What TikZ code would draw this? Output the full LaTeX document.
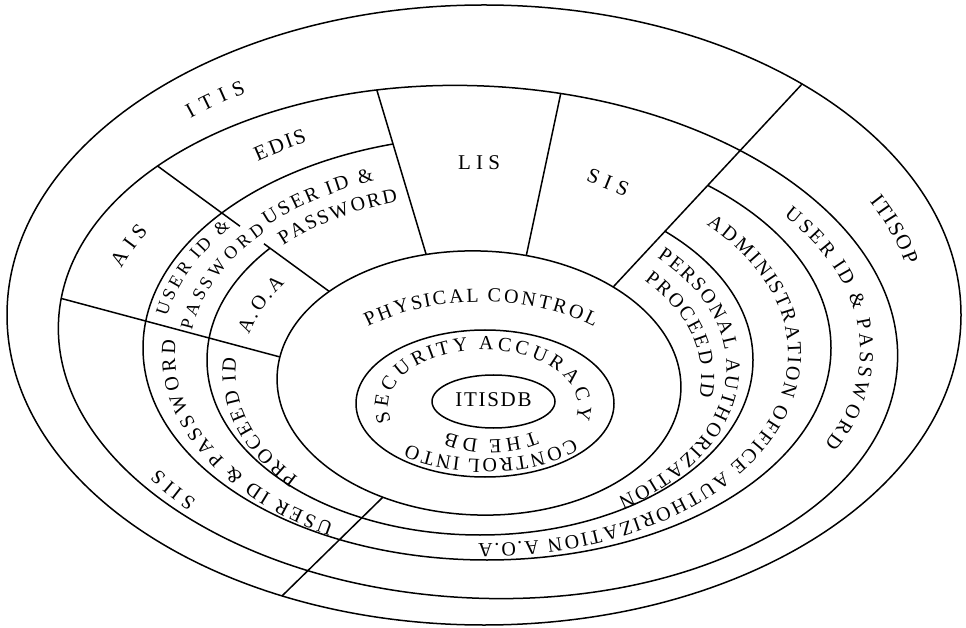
\documentclass[tikz,border=0pt]{standalone}
\usepackage{fontspec}
\setmainfont{Liberation Serif}
\usetikzlibrary{calc,intersections,decorations.text}
\tikzset{
  ring/.style={line width=1.5pt},
  radial/.style={line width=1.5pt},
  lbl/.style={inner sep=0pt}
}
\newcommand\ringtext[8]{%
  \begingroup\fontsize{#7}{#7}\selectfont
  \path[decorate,decoration={text effects along path,text={#8},text effects/.cd,text along path,fit text to path}]
    ($(#1,#2)+(#5:#3pt and #4pt)$) arc[start angle=#5,end angle=#6,x radius=#3pt,y radius=#4pt];
  \endgroup}
\newcommand\radpts[5]{% name, outer ellipse, inner ellipse, outer pt, inner pt
  \coordinate (#1o) at #4; \coordinate (#1i) at #5;
  \path[name path=#1] ($(#1o)!-0.15!(#1i)$) -- ($(#1o)!1.15!(#1i)$);
  \path[name intersections={of=#1 and #2,by=#1a}];
  \path[name intersections={of=#1 and #3,by=#1b}];}
\newcommand\radline[5]{\radpts{#1}{#2}{#3}{#4}{#5}\draw[radial] (#1a) -- (#1b);}
\begin{document}
\begin{tikzpicture}[x=1pt,y=1pt]
\useasboundingbox (0,0) rectangle (966,627);
\fill[white] (0,0) rectangle (966,627);
% full ellipses
\draw[ring,name path=ea] (484,312) ellipse[x radius=477pt,y radius=310pt];
\draw[ring,name path=eb,rotate around={-3:(478,285)}] (478,285) ellipse[x radius=420pt,y radius=256pt];
\draw[ring,name path=ee,rotate around={-2:(479,244)}] (479,244) ellipse[x radius=202pt,y radius=132pt];
\draw[ring] (485,223.5) ellipse[x radius=129pt,y radius=73.5pt];
\draw[ring] (493.5,225.5) ellipse[x radius=61.5pt,y radius=26.5pt];
% radial lines
\radline{la}{eb}{ee}{(378,533)}{(426,373)}
\radline{lb}{eb}{ee}{(560,530)}{(526,370)}
\radline{lc}{ea}{ee}{(803,544)}{(615,342)}
\radpts{ld}{eb}{ee}{(163,457)}{(330,335)}
\draw[radial] (lda) -- ($(lda)!0.48!(ldb)$);
\draw[radial] ($(lda)!0.62!(ldb)$) -- (ldb);
\radline{le}{eb}{ee}{(67,327)}{(280,270)}
\radline{lf}{ea}{ee}{(283,32)}{(380,127)}
% partial ellipses
\begin{scope}
\clip ($(lab)!3!(laa)$) -- (lab) -- (lcb) -- ($(lcb)!2!(lca)$) -- (1200,800) -- (1200,-300) -- (-300,-300) -- (-300,900) -- cycle;
\draw[ring] (487,279) ellipse[x radius=344pt,y radius=212pt];
\end{scope}
\begin{scope}
\clip ($(ldb)!2.5!(lda)$) -- (ldb) -- (lcb) -- ($(lcb)!2!(lca)$) -- (1200,800) -- (1200,-300) -- (-300,-300) -- (-300,640) -- cycle;
\draw[ring] (480,267) ellipse[x radius=273pt,y radius=175pt];
\end{scope}
% straight labels
\node[lbl,font=\fontsize{21}{21}\selectfont\addfontfeature{LetterSpace=25}] (lis) at (479,464) {LIS};
\node[lbl,font=\fontsize{21}{21}\selectfont\addfontfeature{LetterSpace=30},rotate=-22] (sis) at (608,445) {SIS};
\node[lbl,font=\fontsize{21}{21}\selectfont\addfontfeature{LetterSpace=8}] (db) at (493.5,227) {ITISDB};
% curved labels
\ringtext{481}{298.5}{443}{278}{131}{122}{21}{ITIS}
\ringtext{482.5}{282}{377}{229}{126.6}{117.7}{21}{EDIS}
\ringtext{481}{298.5}{436}{280}{27}{13}{21}{ITISOP}
\ringtext{482.5}{282}{382}{234}{161}{151}{21}{AIS}
\ringtext{484.9}{275.4}{322.7}{200.9}{170}{142}{18}{USER ID {\&}}
\ringtext{482}{270.4}{292.9}{185.4}{172}{137.6}{18}{PASSWORD}
\ringtext{483.5}{273}{299}{186}{136.3}{111.4}{20}{USER ID {\&}}
\ringtext{483.5}{273}{271}{161}{137.7}{108.4}{20}{PASSWORD}
\ringtext{479.5}{255.5}{237.5}{153.5}{166}{145}{20}{A.O.A}
\ringtext{481}{232}{166}{93}{133}{47}{20}{PHYSICAL CONTROL}
\ringtext{483}{220}{95}{57}{195}{-13}{20}{SECURITY ACCURACY}
\ringtext{485}{225}{115}{57}{-40}{-132}{20}{CONTROL INTO}
\ringtext{490}{223}{70}{36}{-50}{-128}{20}{THE DB}
\ringtext{479.5}{255.5}{244}{158}{222}{175}{20}{PROCEED ID}
\ringtext{483.5}{273}{308.5}{193.5}{241}{176}{20}{USER ID {\&} PASSWORD}
\ringtext{482.5}{282}{382}{234}{221.5}{212}{20}{SIIS}
\ringtext{479.7}{260.1}{246.7}{157.1}{44}{-56}{20}{PERSONAL AUTHORIZATION}
\ringtext{479.3}{250.4}{221.9}{144}{42}{-8}{20}{PROCEED ID}
\ringtext{483.5}{273}{304.5}{189.5}{43}{-91}{20}{ADMINISTRATION OFFICE AUTHORIZATION A.O.A}
\ringtext{482}{277}{378}{223}{37}{-25}{20}{USER ID {\&} PASSWORD}
\end{tikzpicture}
\end{document}
